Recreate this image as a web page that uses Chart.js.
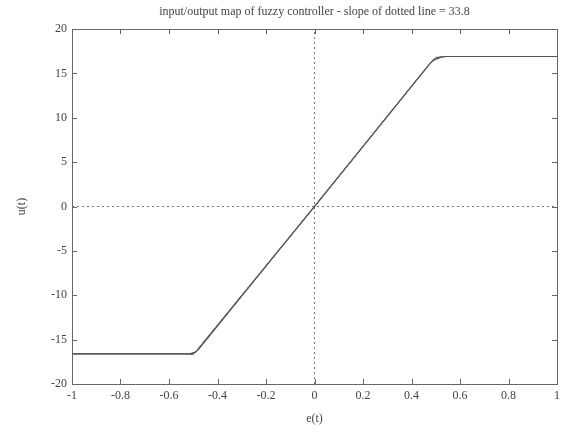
<!DOCTYPE html>
<html>
<head>
<meta charset="utf-8">
<script src="https://cdn.jsdelivr.net/npm/chart.js@4"></script>
<style>
  body { margin: 0; background: #fff; }
  #wrap { width: 569px; height: 435px; }
</style>
</head>
<body>
<div id="wrap"><canvas id="fuzzyMap" width="569" height="435"></canvas></div>
<script>
// input/output map
const eVals = [-1, -0.6, -0.51, -0.49, 0, 0.47, 0.49, 0.53, 0.7, 1];
const uVals = [-16.6, -16.6, -16.6, -16.4, 0, 15.9, 16.5, 16.9, 16.9, 16.9];
// extra traces that fan out at the corners
const eVals2 = [-1, -0.52, -0.5, -0.48, 0, 0.46, 0.5, 0.55, 1];
const uVals2 = [-16.6, -16.6, -16.5, -16.2, 0, 15.6, 16.8, 16.9, 16.9];
const eVals3 = [-0.53, -0.5, 0, 0.48, 0.51, 0.54];
const uVals3 = [-16.6, -16.7, 0, 16.2, 16.8, 16.9];
const xTicks = [-1, -0.8, -0.6, -0.4, -0.2, 0, 0.2, 0.4, 0.6, 0.8, 1];
const yTicks = [-20, -15, -10, -5, 0, 5, 10, 15, 20];
const xRange = [-1, 1];
const yRange = [-20, 20];

const ink = '#444';
const serif = '"Liberation Serif", "Times New Roman", serif';

function pts(xs, ys) {
    return xs.map((x, i) => ({ x: x, y: ys[i] }));
}

function trace(xs, ys, color, w) {
    return {
        data: pts(xs, ys),
        showLine: true,
        borderColor: color,
        borderWidth: w,
        pointRadius: 0,
        tension: 0
    };
}

// inward ticks on all four sides plus box, matlab style
const boxTicks = {
    id: 'boxTicks',
    afterDraw(chart) {
        const c = chart.ctx;
        const a = chart.chartArea;
        const xs = chart.scales.x;
        const ys = chart.scales.y;
        c.save();
        c.strokeStyle = '#666';
        c.lineWidth = 1;
        c.strokeRect(a.left + 0.5, a.top + 0.5, a.right - a.left, a.bottom - a.top);
        c.beginPath();
        xTicks.forEach(v => {
            const p = Math.round(xs.getPixelForValue(v)) + 0.5;
            c.moveTo(p, a.bottom); c.lineTo(p, a.bottom - 5);
            c.moveTo(p, a.top); c.lineTo(p, a.top + 5);
        });
        yTicks.forEach(v => {
            const p = Math.round(ys.getPixelForValue(v)) + 0.5;
            c.moveTo(a.left, p); c.lineTo(a.left + 5, p);
            c.moveTo(a.right, p); c.lineTo(a.right - 5, p);
        });
        c.stroke();
        c.restore();
    }
};

new Chart(document.getElementById('fuzzyMap'), {
    type: 'scatter',
    data: {
        datasets: [
            trace(eVals3, uVals3, '#666', 1),
            trace(eVals2, uVals2, '#555', 1),
            trace(eVals, uVals, '#333', 1.2),
            {
                // dotted zero lines
                data: pts(xRange, [0, 0]),
                showLine: true,
                borderColor: '#777',
                borderWidth: 1,
                borderDash: [2, 3],
                pointRadius: 0
            },
            {
                data: pts([0, 0], yRange),
                showLine: true,
                borderColor: '#777',
                borderWidth: 1,
                borderDash: [2, 3],
                pointRadius: 0
            }
        ]
    },
    options: {
        responsive: false,
        animation: false,
        events: [],
        layout: { padding: { left: 0, right: 12, top: 0, bottom: 0 } },
        plugins: {
            legend: { display: false },
            tooltip: { enabled: false },
            title: { display: false }
        },
        scales: {
            x: {
                type: 'linear',
                position: 'bottom',
                min: -1,
                max: 1,
                afterBuildTicks: s => { s.ticks = xTicks.map(v => ({ value: v })); },
                afterFit: s => { s.height = 51; },
                grid: { display: false, drawTicks: false },
                border: { display: false },
                ticks: {
                    color: ink,
                    font: { family: serif, size: 12 },
                    padding: 5,
                    maxRotation: 0,
                    callback: v => String(v)
                },
                title: {
                    display: true,
                    text: 'e(t)',
                    color: ink,
                    font: { family: serif, size: 12 },
                    padding: { top: 5, bottom: 9 }
                }
            },
            top: {
                type: 'linear',
                position: 'top',
                min: -1,
                max: 1,
                afterFit: s => { s.height = 29; },
                grid: { display: false },
                border: { display: false },
                ticks: { display: false },
                title: {
                    display: true,
                    text: 'input/output map of fuzzy controller - slope of dotted line = 33.8',
                    color: ink,
                    font: { family: serif, size: 12 },
                    padding: { top: 5, bottom: 0 }
                }
            },
            y: {
                type: 'linear',
                min: -20,
                max: 20,
                afterBuildTicks: s => { s.ticks = yTicks.map(v => ({ value: v })); },
                afterFit: s => { s.width = 72; },
                grid: { display: false, drawTicks: false },
                border: { display: false },
                ticks: {
                    color: ink,
                    font: { family: serif, size: 12 },
                    padding: 5
                },
                title: {
                    display: true,
                    text: 'u(t)',
                    color: ink,
                    font: { family: serif, size: 12 },
                    padding: { top: 15, bottom: 0 }
                }
            }
        }
    },
    plugins: [boxTicks]
});
</script>
</body>
</html>
